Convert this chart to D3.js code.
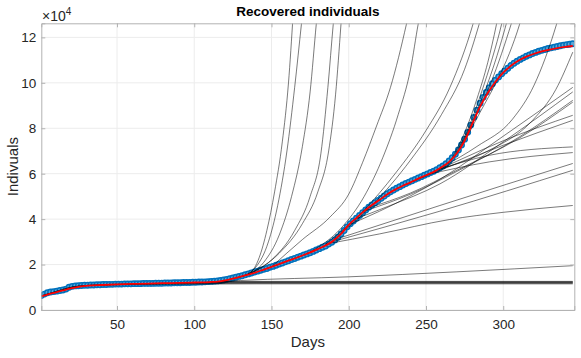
<!DOCTYPE html>
<html lang="en">

<head>
  <meta charset="UTF-8">
  <title>Recovered individuals</title>
  <style>
    body { margin: 0; background: #fff; }
    text { font-family: "Liberation Sans", Arial, Helvetica, sans-serif; }
  </style>
</head>

<body>
  <svg></svg>
  <script src="https://cdn.jsdelivr.net/npm/d3@7/dist/d3.min.js"></script>
  <script>
    // all values in units of 10^4 individuals

    // observed data, one value every second day starting at day 1
    var obsStart = 1, obsStep = 2;
    var observed = [
      0.64, 0.70, 0.76, 0.79, 0.81, 0.83, 0.86, 0.88, 0.92, 1.00, 1.04, 1.06, 1.07,
      1.08, 1.09, 1.09, 1.10, 1.10, 1.11, 1.11, 1.12, 1.12, 1.13, 1.13, 1.14,
      1.14, 1.14, 1.15, 1.15, 1.15, 1.16, 1.16, 1.16, 1.17, 1.17, 1.17, 1.17, 1.18, 1.18, 1.18, 1.19, 1.19, 1.19, 1.20, 1.20, 1.20, 1.21, 1.21, 1.21, 1.22,
      1.22, 1.23, 1.23, 1.24, 1.25, 1.26, 1.27, 1.28, 1.30, 1.32, 1.35, 1.38, 1.41,
      1.44, 1.48, 1.51, 1.55, 1.59, 1.63, 1.67, 1.71, 1.75, 1.79, 1.83, 1.88,
      1.92, 1.97, 2.02, 2.07, 2.12, 2.17, 2.22, 2.27, 2.32, 2.37, 2.42, 2.47, 2.52, 2.58, 2.64, 2.70, 2.76, 2.82, 2.90, 2.98, 3.08, 3.20, 3.35, 3.50, 3.66,
      3.80, 3.92, 4.04, 4.16, 4.28, 4.40, 4.52, 4.62, 4.72, 4.82, 4.92, 5.02, 5.12, 5.20, 5.28, 5.36, 5.43, 5.50, 5.57, 5.63, 5.69, 5.75, 5.81, 5.87, 5.93,
      5.99, 6.05, 6.11, 6.18, 6.26, 6.34, 6.44, 6.56, 6.70, 6.86, 7.04, 7.26, 7.52, 7.82, 8.14, 8.48, 8.80, 9.10, 9.36, 9.58, 9.78, 9.96, 10.12, 10.26, 10.40,
      10.52, 10.64, 10.76, 10.86, 10.95, 11.03, 11.10, 11.17, 11.23, 11.29, 11.34, 11.39, 11.43, 11.47, 11.51, 11.54, 11.57, 11.60, 11.63, 11.66, 11.68, 11.70, 11.72
    ];

    // fitted model (red)
    var fitDays = [1, 5, 10, 15, 20, 25, 30, 40, 50, 60, 70, 80, 90, 100, 110, 115, 120, 125, 130, 135, 140, 145, 150,
      160, 170, 180, 190, 195, 200, 205, 210, 215, 220, 225, 230, 235, 240, 245, 250, 255, 260, 265, 270, 275, 280,
      285, 290, 295, 300, 305, 310, 315, 320, 325, 330, 335, 340, 345];
    var fitValues = [0.6, 0.68, 0.77, 0.86, 0.95, 1.02, 1.06, 1.10, 1.13, 1.15, 1.16, 1.18, 1.19, 1.21, 1.23, 1.25, 1.30, 1.38, 1.47, 1.56, 1.66, 1.78, 1.9,
      2.15, 2.4, 2.68, 3.05, 3.35, 3.75, 4.05, 4.35, 4.62, 4.85, 5.1, 5.3, 5.47, 5.62, 5.78, 5.93, 6.08, 6.28, 6.52, 6.9, 7.45, 8.2,
      8.95, 9.55, 10.05, 10.45, 10.75, 10.98, 11.15, 11.28, 11.38, 11.46, 11.53, 11.58, 11.62];

    // forecasts from fits on shorter windows (black), [day, value]
    var plateauRuns = [
      [[1, 0.62], [10, 0.8], [22, 1.02], [35, 1.09], [60, 1.12], [100, 1.14], [140, 1.15], [345, 1.15]],
      [[1, 0.62], [10, 0.8], [22, 1.02], [35, 1.09], [60, 1.13], [100, 1.17], [140, 1.18], [345, 1.18]],
      [[1, 0.62], [10, 0.8], [22, 1.02], [35, 1.1], [60, 1.15], [100, 1.19], [140, 1.2], [345, 1.2]],
      [[100, 1.2], [120, 1.22], [160, 1.22], [345, 1.22]],
      [[105, 1.21], [125, 1.24], [170, 1.24], [345, 1.24]],
      [[110, 1.22], [130, 1.26], [180, 1.26], [345, 1.26]],
      [[112, 1.23], [130, 1.3], [200, 1.46], [270, 1.68], [345, 1.95]]
    ];
    var slowRuns = [
      [[185, 2.9], [220, 3.35], [265, 3.98], [300, 4.3], [345, 4.6]],
      [[188, 2.98], [259, 4.35], [345, 6.15]],
      [[191, 3.1], [259, 4.6], [345, 6.45]],
      [[250, 5.95], [291, 6.52], [345, 6.93]],
      [[255, 6.1], [291, 6.81], [345, 7.18]],
      [[238, 5.55], [270, 6.55], [300, 7.45], [345, 8.57]],
      [[241, 5.65], [270, 6.45], [300, 7.25], [345, 8.35]],
      [[200, 3.75], [220, 4.35], [259, 5.75], [300, 7.65], [345, 9.8]],
      [[204, 4.0], [225, 4.55], [259, 5.55], [300, 7.4], [345, 9.6]],
      [[210, 4.35], [240, 5.1], [270, 6.1], [310, 7.6], [345, 9.23]],
      [[213, 4.5], [240, 5.15], [270, 6.15], [310, 7.55], [345, 9.15]],
      [[258, 6.2], [290, 7.0], [319, 8.35], [334, 9.7], [345, 11.35]],
      [[262, 6.35], [283, 7.2], [306, 8.4], [320, 9.9], [334.6, 12.6], [338, 13.4]]
    ];
    var steepRuns = [
      [[128, 1.44], [136, 1.62], [142, 2.3], [147, 3.5], [152, 5.2], [157, 7.4], [161, 10], [164, 13]],
      [[130, 1.47], [140, 1.9], [148, 3.0], [154, 4.6], [160, 7.0], [165, 9.8], [169.4, 12.6], [171, 13.6]],
      [[132, 1.5], [145, 2.1], [155, 3.3], [163, 5.0], [170, 7.2], [175, 9.6], [179, 12.6], [181, 14]],
      [[134, 1.55], [150, 2.2], [165, 3.5], [175, 5.0], [182, 6.9], [186.5, 9.8], [190, 12.6], [192, 14]],
      [[136, 1.6], [155, 2.5], [170, 3.8], [180, 5.2], [187, 7.0], [191.5, 9.5], [195, 12.6], [197, 14.5]],
      [[150, 1.9], [170, 3.1], [188, 4.1], [200, 5.1], [209, 6.5], [218, 8.1], [227, 9.8], [237.4, 12.6], [240, 13.4]],
      [[175, 2.55], [195, 3.6], [210, 5.0], [222, 6.7], [232, 8.6], [240, 10.6], [245, 12.6], [247, 13.3]],
      [[185, 2.9], [210, 4.4], [230, 6.0], [250, 7.9], [265.5, 9.8], [280.5, 12.6], [283, 13.2]],
      [[190, 3.1], [215, 4.6], [240, 6.6], [260, 8.6], [275, 10.6], [284.5, 12.6], [287, 13.2]],
      [[266, 6.6], [275, 7.8], [283, 9.3], [290, 10.9], [295.7, 12.6], [298, 13.4]],
      [[268, 6.75], [278, 8.1], [286, 9.6], [293, 11.1], [299, 12.6], [301, 13.2]],
      [[270, 6.9], [280, 8.3], [289, 9.8], [296, 11.2], [302, 12.6], [304, 13.1]],
      [[272, 7.1], [282, 8.5], [292, 10.0], [299, 11.3], [305.2, 12.6], [307, 13]],
      [[274, 7.3], [285, 8.7], [296, 10.1], [304, 11.3], [310.7, 12.6], [312, 12.9]]
    ];

    var xTicks = [50, 100, 150, 200, 250, 300];
    var yTicks = [0, 2, 4, 6, 8, 10, 12];

    var width = 581, height = 358;
    var plotLeft = 41.3, plotRight = 574.3, plotTop = 23.3, plotBottom = 310;

    var svg = d3.select("svg")
      .attr("width", width)
      .attr("height", height);

    var x = d3.scaleLinear().domain([1, 346]).range([plotLeft, plotRight]);
    var y = d3.scaleLinear().domain([0, 12.62]).range([plotBottom, plotTop]);

    svg.append("defs").append("clipPath")
      .attr("id", "plotArea")
      .append("rect")
      .attr("x", plotLeft).attr("y", plotTop)
      .attr("width", plotRight - plotLeft).attr("height", plotBottom - plotTop);

    // grid
    var grid = svg.append("g").attr("stroke", "#ececec").attr("stroke-width", 1);
    grid.selectAll(".gx").data(xTicks).join("line")
      .attr("class", "gx")
      .attr("x1", d => x(d)).attr("x2", d => x(d))
      .attr("y1", plotTop).attr("y2", plotBottom);
    grid.selectAll(".gy").data(yTicks).join("line")
      .attr("class", "gy")
      .attr("x1", plotLeft).attr("x2", plotRight)
      .attr("y1", d => y(d)).attr("y2", d => y(d));

    var plot = svg.append("g").attr("clip-path", "url(#plotArea)");

    // observed markers
    plot.append("g")
      .selectAll("circle")
      .data(observed)
      .join("circle")
      .attr("cx", (d, i) => x(obsStart + i * obsStep))
      .attr("cy", d => y(d))
      .attr("r", 2.7)
      .attr("fill", "#5aa7d8")
      .attr("stroke", "#0072BD")
      .attr("stroke-width", 1.5);

    // forecast curves
    var line = d3.line()
      .x(d => x(d[0]))
      .y(d => y(d[1]))
      .curve(d3.curveMonotoneX);

    plot.append("g")
      .selectAll("path")
      .data(plateauRuns.concat(slowRuns, steepRuns))
      .join("path")
      .attr("d", line)
      .attr("fill", "none")
      .attr("stroke", "#000")
      .attr("stroke-opacity", 0.75)
      .attr("stroke-width", 0.7);

    // fitted curve
    plot.append("path")
      .datum(fitDays.map((d, i) => [d, fitValues[i]]))
      .attr("d", line)
      .attr("fill", "none")
      .attr("stroke", "#ff0000")
      .attr("stroke-width", 1.8);

    // axes, ticks pointing inward on all four sides
    var axisColor = "#b3b3b3";
    var gx = svg.append("g")
      .attr("transform", `translate(0, ${plotBottom})`)
      .call(d3.axisBottom(x).tickValues(xTicks).tickSize(-4).tickPadding(9));
    var gy = svg.append("g")
      .attr("transform", `translate(${plotLeft}, 0)`)
      .call(d3.axisLeft(y).tickValues(yTicks).tickSize(-4).tickPadding(5));
    var gt = svg.append("g")
      .attr("transform", `translate(0, ${plotTop})`)
      .call(d3.axisTop(x).tickValues(xTicks).tickSize(-4).tickFormat(""));
    var gr = svg.append("g")
      .attr("transform", `translate(${plotRight}, 0)`)
      .call(d3.axisRight(y).tickValues(yTicks).tickSize(-4).tickFormat(""));

    [gx, gy, gt, gr].forEach(function (g) {
      g.select(".domain").attr("stroke", axisColor);
      g.selectAll(".tick line").attr("stroke", axisColor);
      g.selectAll(".tick text")
        .attr("fill", "#262626")
        .attr("font-size", "13.5px")
        .attr("font-family", "'Liberation Sans', Arial, sans-serif");
    });

    // exponent label
    var expo = svg.append("text")
      .attr("x", 42)
      .attr("y", 20.5)
      .attr("font-size", "14px")
      .attr("fill", "#262626");
    expo.append("tspan").text("\u00d710");
    expo.append("tspan").attr("dy", -6).attr("font-size", "10px").text("4");

    // title and labels
    svg.append("text")
      .attr("x", (plotLeft + plotRight) / 2)
      .attr("y", 16)
      .attr("text-anchor", "middle")
      .attr("font-size", "13.5px")
      .attr("font-weight", "bold")
      .attr("fill", "#000")
      .text("Recovered individuals");

    svg.append("text")
      .attr("x", (plotLeft + plotRight) / 2)
      .attr("y", 347)
      .attr("text-anchor", "middle")
      .attr("font-size", "15px")
      .attr("fill", "#262626")
      .text("Days");

    svg.append("text")
      .attr("transform", `translate(18, ${(plotTop + plotBottom) / 2}) rotate(-90)`)
      .attr("text-anchor", "middle")
      .attr("font-size", "15px")
      .attr("fill", "#262626")
      .text("Indivuals");
  </script>
</body>

</html>
